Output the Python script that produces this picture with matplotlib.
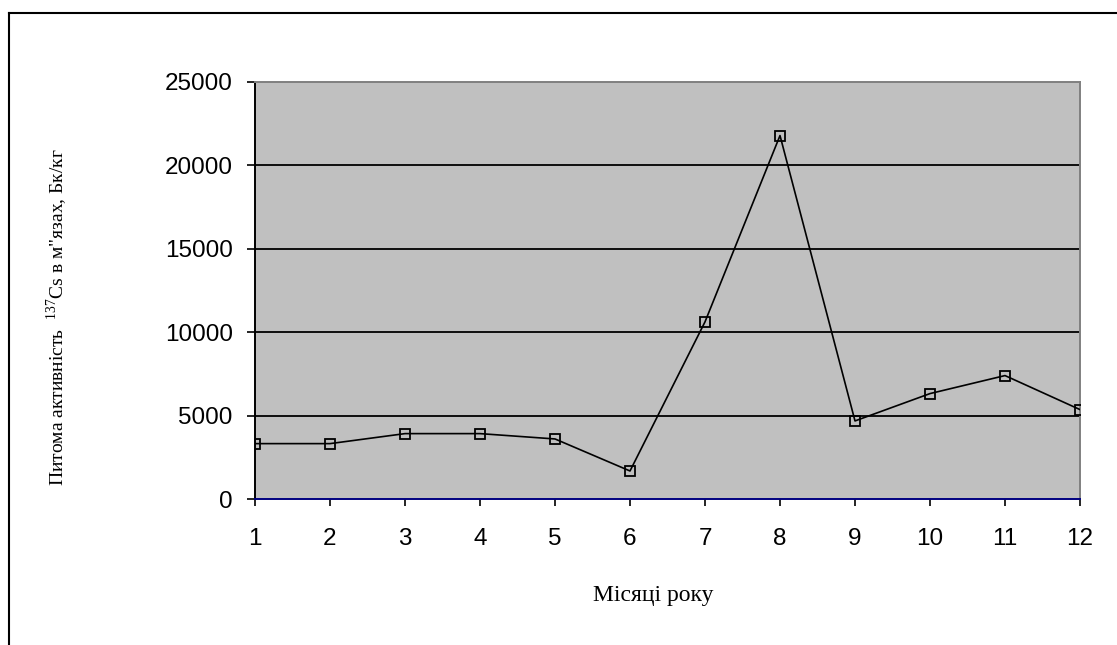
import matplotlib
matplotlib.use("Agg")
import matplotlib.pyplot as plt
from matplotlib.lines import Line2D

# months and Cs-137 specific activity (Bq/kg)
months = [1, 2, 3, 4, 5, 6, 7, 8, 9, 10, 11, 12]
activity = [3320, 3320, 3920, 3920, 3600, 1680, 10620, 21790, 4680, 6320, 7400, 5360]
y_ticks = [0, 5000, 10000, 15000, 20000, 25000]

plt.rcParams['mathtext.fontset'] = 'custom'
plt.rcParams['mathtext.rm'] = 'Liberation Serif'

W, H = 1117, 645
fig = plt.figure(figsize=(W / 100, H / 100), dpi=100)
ax = fig.add_axes([255 / W, 1 - 499 / H, 825 / W, 417 / H])

ax.set_facecolor('#C0C0C0')
ax.plot(months, activity, color='black', lw=1.2, marker='s', ms=6.5,
        mfc='none', mec='black', mew=1.3, zorder=3)

ax.set_xlim(1, 12)
ax.set_ylim(0, 25000)
ax.set_xticks(months)
ax.set_yticks(y_ticks)
for y in y_ticks[1:-1]:
    ax.axhline(y, color='black', lw=1.3, zorder=1)

for lab in ax.get_xticklabels() + ax.get_yticklabels():
    lab.set_fontfamily('Liberation Sans')
    lab.set_fontsize(17.5)
ax.tick_params(axis='y', direction='out', length=6, width=1.2, pad=10)
ax.tick_params(axis='x', direction='out', length=5, width=1.2, pad=16)

ax.spines['left'].set_color('black')
ax.spines['bottom'].set_color('#000080')
ax.spines['top'].set_color('#808080')
ax.spines['right'].set_color('#808080')
for s in ax.spines.values():
    s.set_linewidth(1.4)

fig.text(653 / W, 1 - 601 / H, 'Місяці року', family='Liberation Serif',
         fontsize=17, ha='center', va='baseline')
fig.text(57 / W, 1 - 317 / H,
         "Питома активність  $^{\\mathrm{137}}$Cs в м\"язах, Бк/кг",
         family='Liberation Serif', fontsize=14, rotation=90,
         ha='center', va='center')

# outer frame (only left and top edges are visible)
fig.add_artist(Line2D([9.5 / W, 9.5 / W], [0, 1 - 12.5 / H], color='black', lw=1.5,
                      transform=fig.transFigure))
fig.add_artist(Line2D([9.5 / W, 1], [1 - 12.5 / H, 1 - 12.5 / H], color='black', lw=1.5,
                      transform=fig.transFigure))

fig.savefig('out.png', dpi=100)
